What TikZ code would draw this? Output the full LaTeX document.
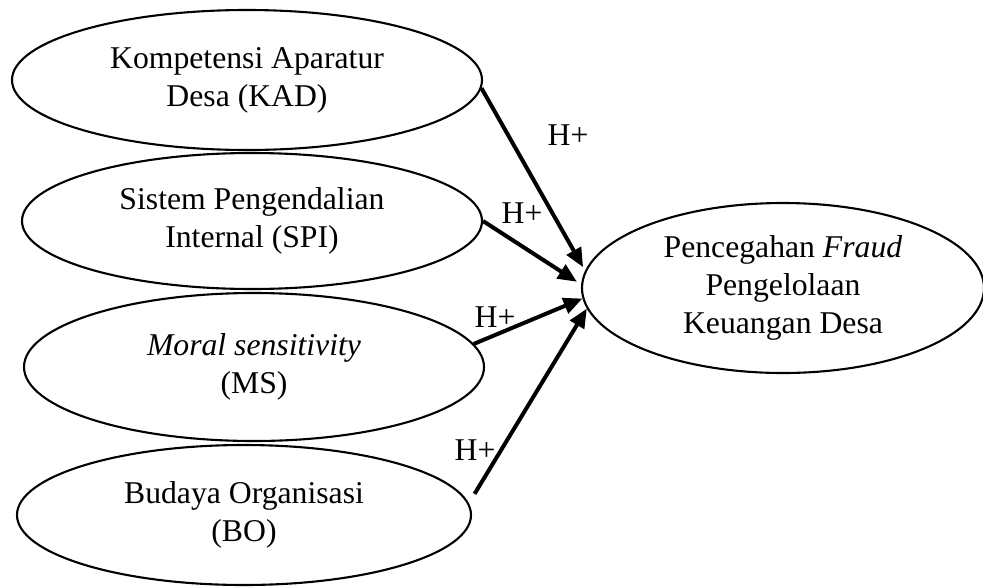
\documentclass[tikz,border=0pt]{standalone}
\usepackage{fontspec}
\setmainfont{Liberation Serif}
\usetikzlibrary{shapes.geometric,arrows.meta}
\begin{document}
\begin{tikzpicture}[x=1pt,y=-1pt,
  var/.style={draw,ellipse,line width=2.1pt,inner sep=0pt,align=center,
    font=\fontsize{31.7}{38}\selectfont},
  conn/.style={line width=4pt,-{Triangle[length=19pt,width=16pt]}},
  hlab/.style={font=\fontsize{31.7}{38}\selectfont,inner sep=1pt}]
\useasboundingbox (0,0) rectangle (983,587);
\node[var,minimum width=470pt,minimum height=140pt] (kad) at (247,80) {Kompetensi Aparatur\\Desa (KAD)};
\node[var,minimum width=460pt,minimum height=136pt] (spi) at (252,221) {Sistem Pengendalian\\Internal (SPI)};
\node[var,minimum width=460pt,minimum height=148pt] (ms) at (254,367) {\textit{Moral sensitivity}\\(MS)};
\node[var,minimum width=454pt,minimum height=140pt] (bo) at (244,515) {Budaya Organisasi\\(BO)};
\node[var,minimum width=402pt,minimum height=170pt] (dv) at (783,288) {Pencegahan \textit{Fraud}\\Pengelolaan\\Keuangan Desa};
\draw[conn,shorten >=4pt] (kad.-2.5) -- (dv.175);
\draw[conn,shorten >=5pt] (spi.-0.5) -- (dv.179);
\draw[conn] (ms.6.3) -- (dv.183.5);
\draw[conn,shorten <=11pt] (bo.3.9) -- (dv.186.5);
\node[hlab] (h1) at (568,135) {H+};
\node[hlab] (h2) at (522,213) {H+};
\node[hlab] (h3) at (495,317) {H+};
\node[hlab] (h4) at (475,450) {H+};
\end{tikzpicture}
\end{document}
